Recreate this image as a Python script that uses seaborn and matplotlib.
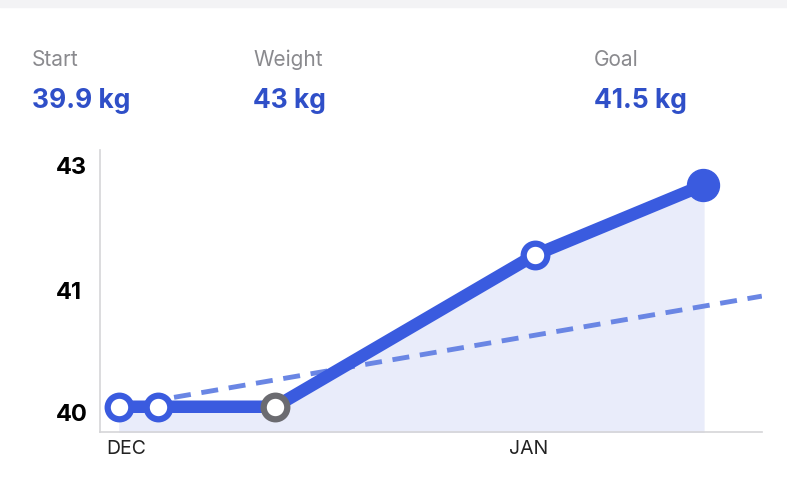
import numpy as np
import matplotlib
matplotlib.use("Agg")
import matplotlib.pyplot as plt
import seaborn as sns

sns.set_theme(style="white")
plt.rcParams['font.family'] = ['Inter', 'DejaVu Sans']

# data
days = [0, 3, 12, 32, 45]              # days since Dec 1
weights = [40.05, 40.05, 40.05, 41.56, 42.68]
trend_days = [0, 49.5]
trend_weights = [40.05, 40.95]
tick_kg = [40, 41, 43]
month_days = [0.5, 31.5]
month_labels = ["DEC", "JAN"]
header_labels = ["Start", "Weight", "Goal"]
header_values = ["39.9 kg", "43 kg", "41.5 kg"]

# axis spacing is uneven: ticks evenly placed
def to_pos(kg):
    return np.interp(kg, tick_kg, [0, 1, 2.0 + 2 / 122])

blue = "#3a5bdf"
fig = plt.figure(figsize=(7.87, 4.79), dpi=100)
fig.patches.append(plt.Rectangle((0, 0.985), 1, 0.015, transform=fig.transFigure,
                                 color="#f3f3f5", zorder=0))
ax = fig.add_axes([0.127, 0.098, 0.841, 0.589])

y = to_pos(np.array(weights))
ax.fill_between(days, y, -1, color="#e9ecfa", zorder=1)
sns.lineplot(x=trend_days, y=to_pos(np.array(trend_weights)), ax=ax, color="#6a86e4",
             lw=3.5, linestyle=(0, (3.5, 2.2)), zorder=2)
sns.lineplot(x=days, y=y, ax=ax, color=blue, lw=9, zorder=3)
for i, (d, v) in enumerate(zip(days, y)):
    if i == len(days) - 1:
        ax.plot(d, v, "o", ms=23, color=blue, zorder=5)
    else:
        ec = "#6b6b70" if i == 2 else blue
        ax.plot(d, v, "o", ms=17, mfc="white", mec=ec, mew=4.5, zorder=5)

ax.set_xlim(-1.5, 49.5)
ax.set_ylim(-0.156, 2.14)
ax.set_yticks(to_pos(np.array(tick_kg)))
ax.set_yticklabels([str(t) for t in tick_kg], fontsize=17, fontweight="bold", color="black")
ax.set_xticks(month_days)
ax.set_xticklabels(month_labels, fontsize=14, color="#222222")
ax.tick_params(axis="y", length=0, pad=32)
ax.tick_params(axis="x", length=0, pad=6)
for t in ax.get_yticklabels():
    t.set_horizontalalignment("left")
for s in ["top", "right"]:
    ax.spines[s].set_visible(False)
for s in ["left", "bottom"]:
    ax.spines[s].set_color("#d5d5d8")
    ax.spines[s].set_linewidth(1.2)

xs = [32, 253, 594]
for x, lab, val in zip(xs, header_labels, header_values):
    fig.text(x / 787, 1 - 60 / 479, lab, fontsize=15, color="#8a8a8e", va="center")
    fig.text(x / 787, 1 - 101 / 479, val, fontsize=19, fontweight="bold", color="#2f4fc8", va="center")

fig.savefig("out.png", dpi=100)
